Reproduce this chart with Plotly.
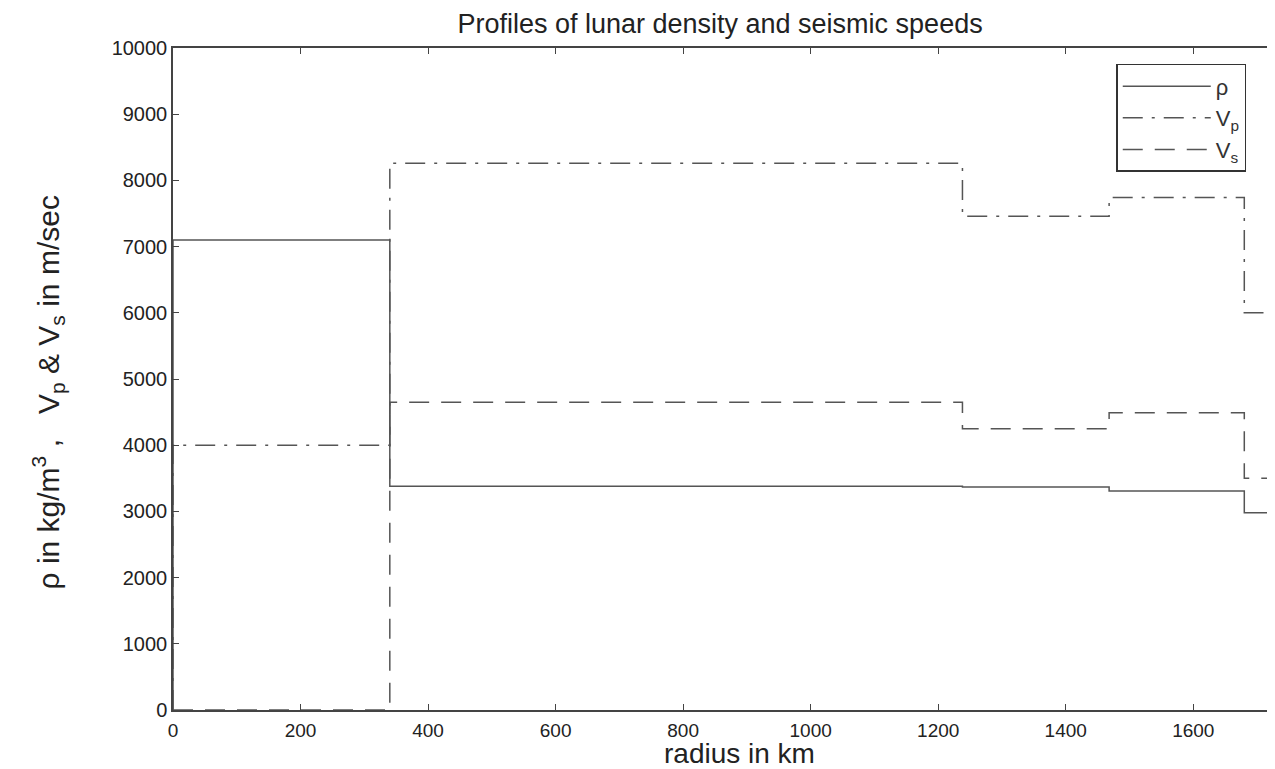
import plotly.graph_objects as go

# Layer boundaries (radius in km) and stepwise values
radius_edges = [0, 340, 1238, 1468, 1680, 1738]
rho = [7100, 3380, 3370, 3310, 2980]   # kg/m^3
vp = [4000, 8260, 7460, 7740, 6000]    # m/s
vs = [0, 4650, 4250, 4490, 3500]       # m/s

x_ticks = [0, 200, 400, 600, 800, 1000, 1200, 1400, 1600]
y_ticks = [0, 1000, 2000, 3000, 4000, 5000, 6000, 7000, 8000, 9000, 10000]
y_tick_text = [str(v) for v in y_ticks]


def stairs(edges, vals):
    xs = [edges[0]] + edges[:-1] + [edges[-1]]
    ys = [0] + vals + [vals[-1]]
    return xs, ys


col = "#555555"
fig = go.Figure()
for name, vals, dash in [
    ("ρ", rho, "solid"),
    ("V<sub>p</sub>", vp, "20px,9px,3px,9px"),
    ("V<sub>s</sub>", vs, "20px,12px"),
]:
    xs, ys = stairs(radius_edges, vals)
    fig.add_trace(go.Scatter(x=xs, y=ys, mode="lines", name=name,
                             line=dict(color=col, width=1.5, dash=dash, shape="hv")))

font = "Liberation Sans, Arial, Helvetica, sans-serif"
tc = "#222222"
fig.update_layout(
    width=1267, height=761,
    margin=dict(l=165, r=0, t=40, b=59),
    paper_bgcolor="white", plot_bgcolor="white",
    font=dict(family=font, color=tc),
    title=dict(text="Profiles of lunar density and seismic speeds",
               x=0.562, xanchor="center", y=0.979, yanchor="middle",
               font=dict(size=27, family=font, color=tc)),
    showlegend=True,
    legend=dict(x=0.8575, y=0.976, xanchor="left", yanchor="top",
                bgcolor="white", bordercolor="#333333", borderwidth=1.5,
                font=dict(size=22, family=font, color="#333333"),
                itemwidth=88, tracegroupgap=0),
    annotations=[
        dict(text="radius in km", xref="paper", yref="paper",
             x=0.5154, y=-0.066, xanchor="center", yanchor="middle",
             showarrow=False, font=dict(size=28, family=font, color=tc)),
        dict(text="ρ in kg/m<sup>3</sup> ,   V<sub>p</sub> & V<sub>s</sub> in m/sec",
             xref="paper", yref="paper", x=-0.1134, y=0.48,
             xanchor="center", yanchor="middle", textangle=-90,
             showarrow=False, font=dict(size=30, family=font, color=tc)),
    ],
)
fig.update_xaxes(range=[0, 1725], tickvals=x_ticks, ticks="inside", ticklen=6,
                 tickcolor="#444", showline=True, linecolor="#444", linewidth=1.5,
                 mirror="ticks", showgrid=False, zeroline=False,
                 ticklabelstandoff=2,
                 tickfont=dict(size=19, family=font, color=tc))
fig.update_yaxes(range=[0, 10000], tickvals=y_ticks, ticktext=y_tick_text,
                 ticks="inside", ticklen=6,
                 tickcolor="#444", showline=True, linecolor="#444", linewidth=1.5,
                 mirror="ticks", showgrid=False, zeroline=False,
                 tickfont=dict(size=20, family=font, color=tc))

fig.write_html("out.html")
